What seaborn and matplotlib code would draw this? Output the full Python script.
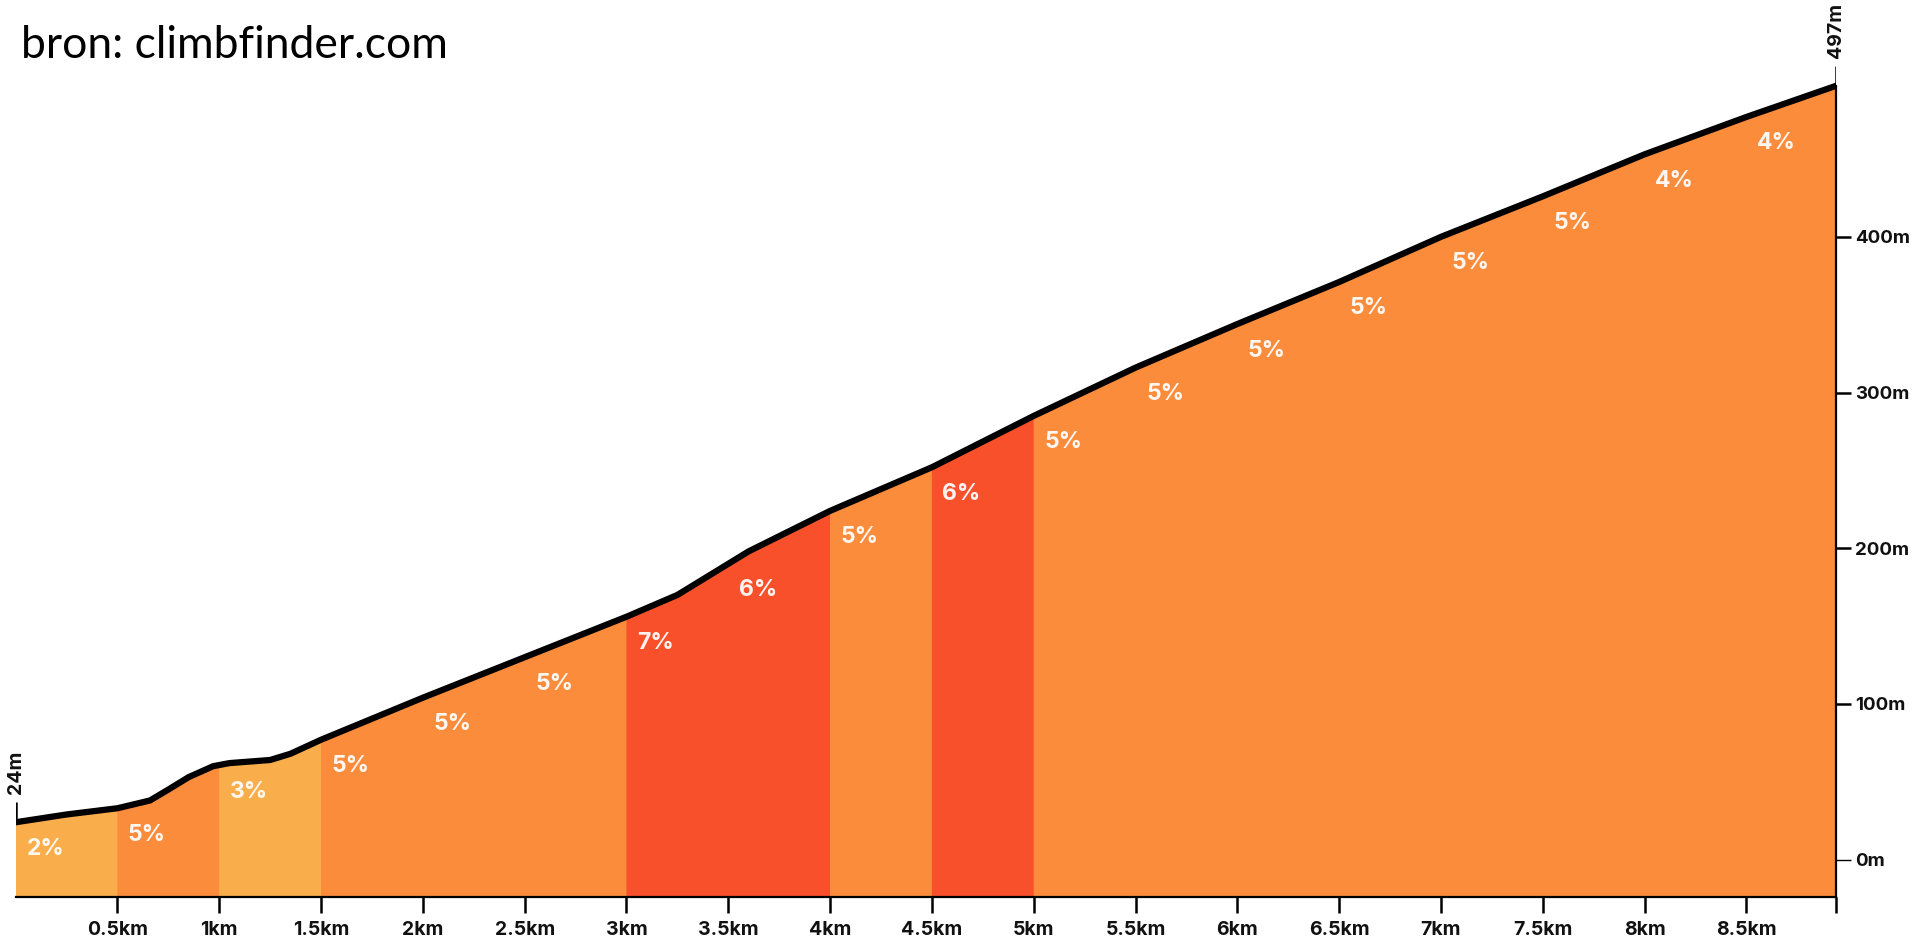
import numpy as np
import pandas as pd
import matplotlib
matplotlib.use("Agg")
import matplotlib.pyplot as plt
import seaborn as sns

# ---- data ----
dist_km = [0.0, 0.25, 0.5, 0.66, 0.75, 0.85, 0.97, 1.05, 1.25, 1.35, 1.5, 2.0,
           2.5, 3.0, 3.25, 3.45, 3.6, 4.0, 4.5, 5.0, 5.5, 6.0, 6.5, 7.0, 7.5,
           8.0, 8.5, 8.94]
elev_m = [24, 29, 33, 38, 45, 53, 60, 62, 64, 68, 77, 104,
          130, 156, 170, 186, 198, 224, 252, 285, 316, 344, 371, 400, 426,
          453, 477, 497]

seg_start_km = [0, 0.5, 1.0, 1.5, 2.0, 2.5, 3.0, 3.5, 4.0, 4.5, 5.0, 5.5,
                6.0, 6.5, 7.0, 7.5, 8.0, 8.5]
seg_grade = [2, 5, 3, 5, 5, 5, 7, 6, 5, 6, 5, 5, 5, 5, 5, 5, 4, 4]
total_km = 8.94

xtick_pos = [0.5, 1, 1.5, 2, 2.5, 3, 3.5, 4, 4.5, 5, 5.5, 6, 6.5, 7, 7.5, 8, 8.5, 8.94]
xtick_labels = ["0.5km", "1km", "1.5km", "2km", "2.5km", "3km", "3.5km", "4km",
                "4.5km", "5km", "5.5km", "6km", "6.5km", "7km", "7.5km", "8km",
                "8.5km", ""]
ytick_pos = [0, 100, 200, 300, 400]
ytick_labels = ["0m", "100m", "200m", "300m", "400m"]

source_text = "bron: climbfinder.com"

# ---- style ----
sns.set_theme(style="white")
plt.rcParams["font.family"] = ["Inter", "DejaVu Sans"]

C_LIGHT = "#F9AD4B"
C_MID = "#FB8C3C"
C_RED = "#F9502C"


def grade_color(g):
    if g <= 3:
        return C_LIGHT
    if g <= 5:
        return C_MID
    return C_RED


Y_BOTTOM = -24
Y_TOP = 550

fig = plt.figure(figsize=(19.15, 9.4), dpi=100)
ax = fig.add_axes([15.6 / 1915, 43 / 940, (1836 - 15.6) / 1915, 893.7 / 940])

# coloured gradient segments
n = len(seg_start_km)
for i, s in enumerate(seg_start_km):
    e = seg_start_km[i + 1] if i + 1 < n else total_km
    xs = [s] + [d for d in dist_km if s < d < e] + [e]
    ys = np.interp(xs, dist_km, elev_m)
    col = grade_color(seg_grade[i])
    ax.fill_between(xs, ys, Y_BOTTOM, color=col, linewidth=0.8, edgecolor=col)

    # grade label
    y0 = np.interp(s, dist_km, elev_m)
    ax.text(s + 0.145, y0 - 17, f"{seg_grade[i]}%", color="white", alpha=0.93,
            fontsize=16.5, fontweight="bold", ha="center", va="center")

# profile line
df = pd.DataFrame({"km": dist_km, "m": elev_m})
sns.lineplot(data=df, x="km", y="m", color="black", linewidth=4.5, ax=ax,
             solid_capstyle="round", solid_joinstyle="round")

# start / end markers
for xk, ym in [(0.0, elev_m[0]), (total_km, elev_m[-1])]:
    ax.plot([xk, xk], [ym, ym + 13], color="black", lw=1.8, solid_capstyle="butt")
    ax.text(xk, ym + 18, f"{ym}m", rotation=90, ha="center", va="bottom",
            fontsize=14, fontweight="bold", color="#111111")

ax.set_xlim(0, total_km)
ax.set_ylim(Y_BOTTOM, Y_TOP)

ax.set_xticks(xtick_pos)
ax.set_xticklabels(xtick_labels)
ax.yaxis.tick_right()
ax.set_yticks(ytick_pos)
ax.set_yticklabels(ytick_labels)

ax.tick_params(axis="x", direction="out", length=11.5, width=1.8, color="black",
               pad=6, labelsize=14, labelcolor="#111111", bottom=True)
ax.tick_params(axis="y", direction="out", length=10.5, width=1.8, color="black",
               pad=3.5, labelsize=13.5, labelcolor="#111111", right=True, left=False)
for lab in ax.get_xticklabels() + ax.get_yticklabels():
    lab.set_fontweight("bold")
ytl = ax.yaxis.get_ticklines()
for tl in ytl[:2]:
    tl.set_color("#BBBBBB")
    tl.set_markeredgewidth(1.0)

for side in ["left", "top"]:
    ax.spines[side].set_visible(False)
ax.spines["bottom"].set_linewidth(1.6)
ax.spines["bottom"].set_color("black")
ax.spines["right"].set_linewidth(1.6)
ax.spines["right"].set_color("black")
ax.spines["right"].set_bounds(Y_BOTTOM, elev_m[-1])
ax.set_xlabel("")
ax.set_ylabel("")
ax.grid(False)

fig.text(21 / 1915, 1 - 58 / 940, source_text, fontsize=32, color="black",
         ha="left", va="baseline", family=["Lato", "DejaVu Sans"])

fig.savefig("out.png", dpi=100)
